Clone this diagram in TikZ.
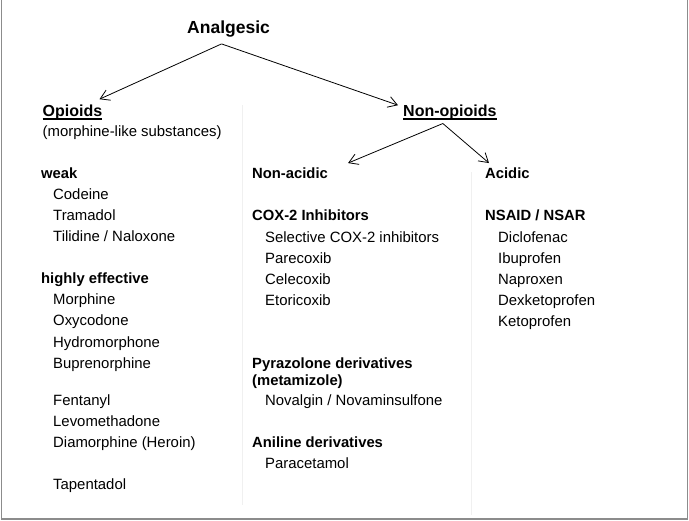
\documentclass[tikz,border=0pt]{standalone}
\usepackage{fontspec}
\setmainfont{Liberation Sans}
\usetikzlibrary{arrows.meta}

\begin{document}
\begin{tikzpicture}[x=1pt, y=-1pt,
    titulo/.style={anchor=base west, inner sep=0pt, font=\fontsize{17.5}{20}\selectfont\bfseries},
    cabecera/.style={anchor=base west, inner sep=0pt, font=\fontsize{16}{19}\selectfont\bfseries},
    grupo/.style={anchor=base west, inner sep=0pt, font=\fontsize{14.8}{18}\selectfont\bfseries},
    farmaco/.style={anchor=base west, inner sep=0pt, font=\fontsize{14.9}{18}\selectfont},
    flecha/.style={-{Straight Barb[length=9pt,width=11pt]}, line width=0.8pt},
    separador/.style={line width=1pt, draw=black!6}]
    \useasboundingbox (0,0) rectangle (689,521);
    % Marco y separadores
    \draw[line width=1.5pt, draw=black!45] (1.5,0) -- (1.5,519) -- (687.5,519) -- (687.5,0);
    \draw[separador] (242,105) -- (242,505);
    \draw[separador] (471,172) -- (471,515);

    % Titulos
    \node[titulo] (analgesico) at (187,34) {Analgesic};
    \node[cabecera] (opioides) at (42.5,117) {Opioids};
    \node[cabecera] (noopioides) at (403,117) {Non-opioids};
    \draw[line width=1.2pt] ([yshift=-2pt]opioides.base west) -- ([yshift=-2pt]opioides.base east);
    \draw[line width=1.2pt] ([yshift=-2pt]noopioides.base west) -- ([yshift=-2pt]noopioides.base east);

    % Columna de opioides
    \node[farmaco] (sustancias) at (42.5,137) {(morphine-like substances)};
    \node[grupo] (debil) at (41,179) {weak};
    \foreach \y/\nombre in {200/Codeine, 221/Tramadol, 242/{Tilidine / Naloxone}}
        \node[farmaco] (debil-\y) at (53,\y) {\nombre};
    \node[grupo] (fuerte) at (41,284) {highly effective};
    \foreach \y/\nombre in {305/Morphine, 326/Oxycodone, 348/Hydromorphone, 369/Buprenorphine,
        406/Fentanyl, 427/Levomethadone, 448/Diamorphine (Heroin), 490/Tapentadol}
        \node[farmaco] (fuerte-\y) at (53,\y) {\nombre};

    % Columna no acida
    \node[grupo] (noacido) at (252,179) {Non-acidic};
    \node[grupo] (cox) at (252,221) {COX-2 Inhibitors};
    \foreach \y/\nombre in {243/Selective COX-2 inhibitors, 264/Parecoxib, 285/Celecoxib, 306/Etoricoxib}
        \node[farmaco] (cox-\y) at (265,\y) {\nombre};
    \node[grupo] (pirazolona) at (252,369) {Pyrazolone derivatives};
    \node[grupo] (metamizol) at (252,386) {(metamizole)};
    \node[farmaco] (novalgin) at (265,406) {Novalgin / Novaminsulfone};
    \node[grupo] (anilina) at (252,448) {Aniline derivatives};
    \node[farmaco] (paracetamol) at (265,469) {Paracetamol};

    % Columna acida
    \node[grupo] (acido) at (485,179) {Acidic};
    \node[grupo] (aines) at (485,221) {NSAID / NSAR};
    \foreach \y/\nombre in {243/Diclofenac, 264/Ibuprofen, 285/Naproxen, 306/Dexketoprofen, 327/Ketoprofen}
        \node[farmaco] (aines-\y) at (498,\y) {\nombre};

    % Flechas
    \draw[flecha] ([xshift=-7pt,yshift=-6pt]analgesico.south) -- ([xshift=-3pt,yshift=6pt]opioides.north east);
    \draw[flecha] ([xshift=-7pt,yshift=-6pt]analgesico.south) -- ([xshift=-5pt]noopioides.north west);
    \draw[flecha] ([xshift=-7pt,yshift=-3pt]noopioides.south) -- ([xshift=20pt,yshift=5pt]noacido.north east);
    \draw[flecha] ([xshift=-7pt,yshift=-3pt]noopioides.south) -- ([xshift=4pt,yshift=5pt]acido.north west);
\end{tikzpicture}
\end{document}
